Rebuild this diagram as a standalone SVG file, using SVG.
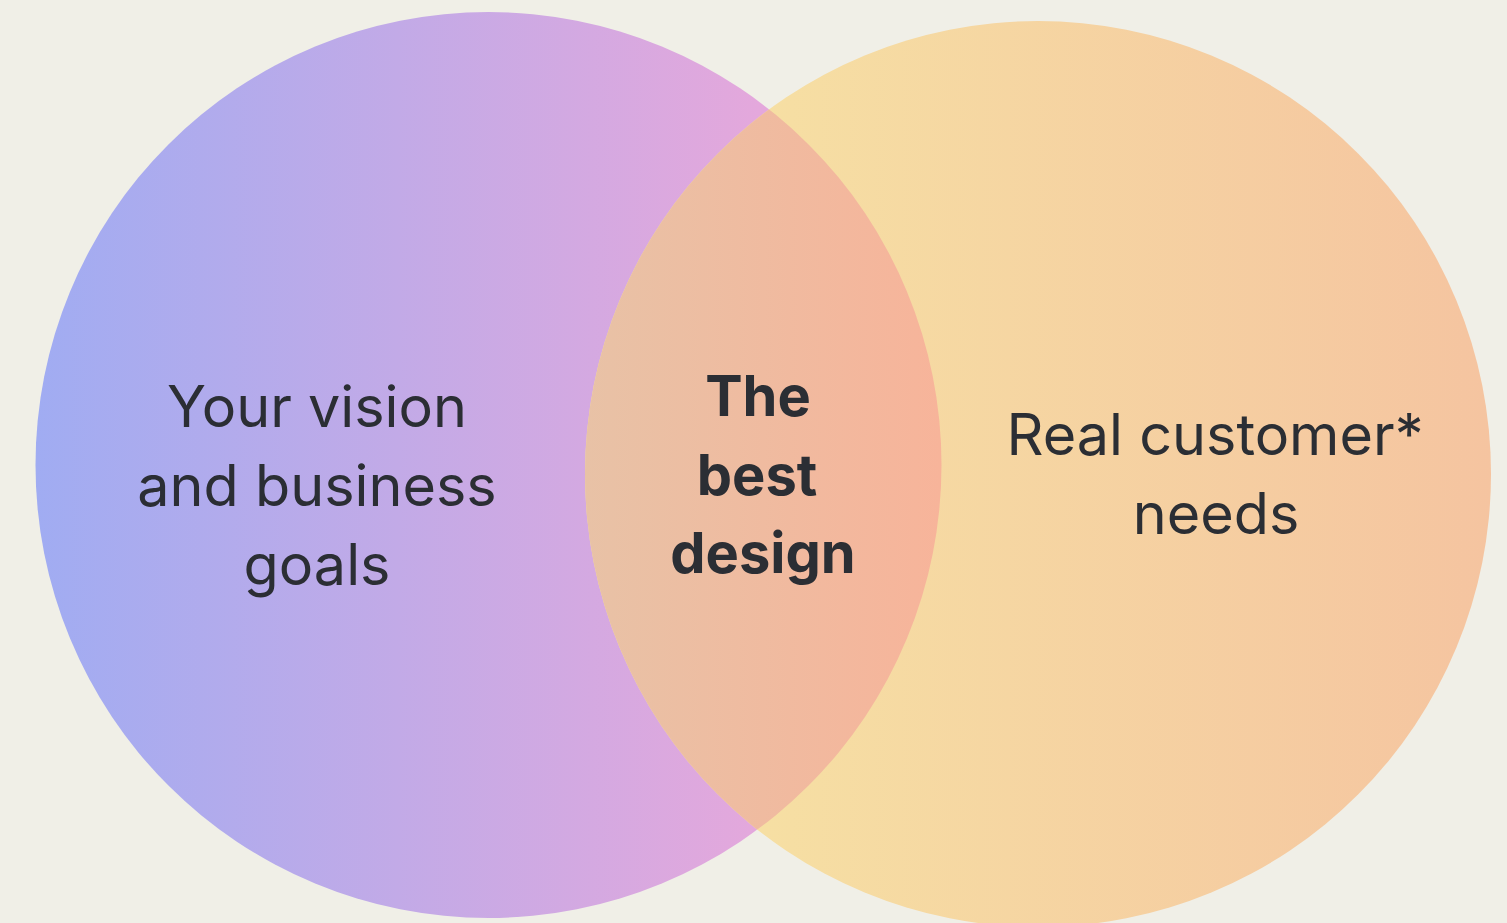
<svg xmlns="http://www.w3.org/2000/svg" width="1507" height="923" viewBox="0 0 1507 923">
  <defs>
    <linearGradient id="gLeft" gradientUnits="userSpaceOnUse" x1="35" y1="0" x2="941" y2="0">
      <stop offset="0" stop-color="#a0acf2"/>
      <stop offset="0.8" stop-color="#e4a8dc"/>
      <stop offset="1" stop-color="#e6a8da"/>
    </linearGradient>
    <linearGradient id="gRight" gradientUnits="userSpaceOnUse" x1="585" y1="0" x2="1491" y2="0">
      <stop offset="0.2" stop-color="#f6dfa3"/>
      <stop offset="1" stop-color="#f5c4a0"/>
    </linearGradient>
    <linearGradient id="gMid" gradientUnits="userSpaceOnUse" x1="585" y1="0" x2="941" y2="0">
      <stop offset="0" stop-color="#e8c2a6"/>
      <stop offset="1" stop-color="#f7b49a"/>
    </linearGradient>
    <clipPath id="clipLeft">
      <circle cx="488.5" cy="465" r="453"/>
    </clipPath>
    <style>
      .lbl { font-family: Inter, "Liberation Sans", sans-serif; font-size: 57.5px; fill: #2b2e34; text-anchor: middle; }
      .bold { font-weight: 700; font-size: 56px; }
    </style>
  </defs>
  <rect x="0" y="0" width="1507" height="923" fill="#f0efe7"/>
  <g id="circle-left">
    <circle cx="488.5" cy="465" r="453" fill="url(#gLeft)"/>
  </g>
  <g id="circle-right">
    <circle cx="1038" cy="474" r="453" fill="url(#gRight)"/>
  </g>
  <g id="intersection">
    <circle cx="1038" cy="474" r="453" fill="url(#gMid)" clip-path="url(#clipLeft)"/>
  </g>
  <g id="connectors"/>
  <g id="label-left">
    <text class="lbl" x="317" y="427">Your vision</text>
    <text class="lbl" x="317" y="506">and business</text>
    <text class="lbl" x="317" y="585">goals</text>
  </g>
  <g id="label-center">
    <text class="lbl bold" x="758" y="416">The</text>
    <text class="lbl bold" x="757" y="495">best</text>
    <text class="lbl bold" x="763" y="573">design</text>
  </g>
  <g id="label-right">
    <text class="lbl" x="1215" y="455">Real customer*</text>
    <text class="lbl" x="1216" y="534">needs</text>
  </g>
</svg>
